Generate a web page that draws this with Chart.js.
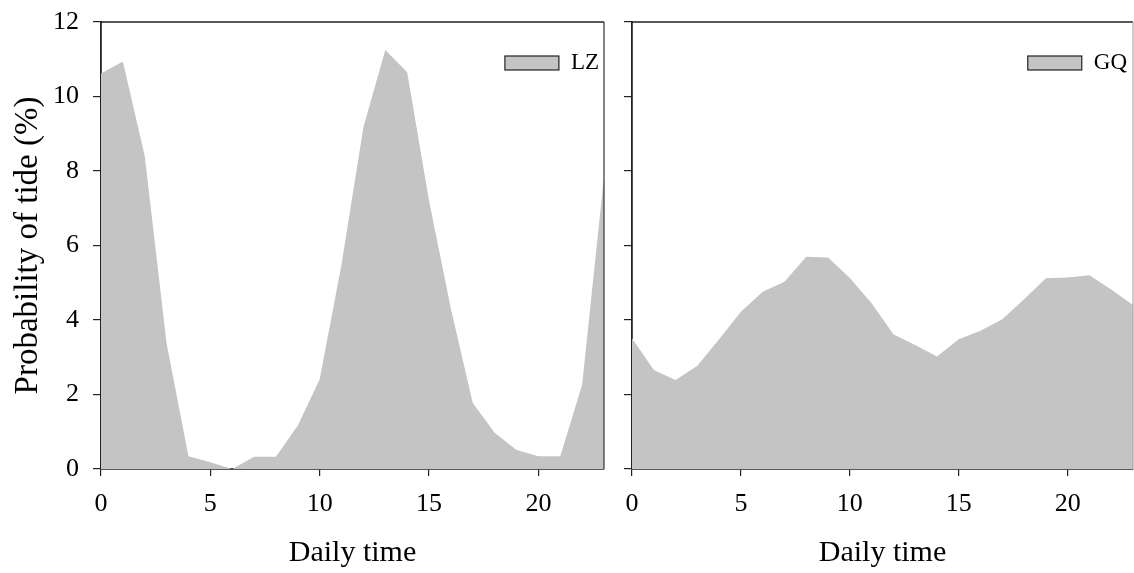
<!DOCTYPE html>
<html>
<head>
<meta charset="utf-8">
<script src="https://cdn.jsdelivr.net/npm/chart.js@4.4.1/dist/chart.umd.min.js"></script>
<style>
  html, body { margin: 0; padding: 0; background: #fff; }
  #wrap { position: relative; width: 1134px; height: 573px; overflow: hidden; }
  canvas { position: absolute; top: 0; }
  #lz-chart { left: 0; }
  #gq-chart { left: 615px; }
</style>
</head>
<body>
<div id="wrap">
  <canvas id="lz-chart" width="615" height="573"></canvas>
  <canvas id="gq-chart" width="519" height="573"></canvas>
</div>
<script>
(function () {
  // hourly tide probability (%)
  const hours = [0, 1, 2, 3, 4, 5, 6, 7, 8, 9, 10, 11, 12, 13, 14, 15, 16, 17, 18, 19, 20, 21, 22, 23];
  const lzValues = [10.62, 10.94, 8.4, 3.37, 0.34, 0.18, 0.0, 0.33, 0.33, 1.17, 2.41, 5.5, 9.18, 11.25, 10.65, 7.2, 4.3, 1.77, 0.97, 0.51, 0.34, 0.34, 2.26, 7.85];
  const gqValues = [3.51, 2.66, 2.39, 2.77, 3.48, 4.22, 4.76, 5.03, 5.7, 5.68, 5.13, 4.45, 3.62, 3.33, 3.02, 3.48, 3.71, 4.02, 4.56, 5.12, 5.14, 5.2, 4.82, 4.4];
  const xTickValues = [0, 5, 10, 15, 20];
  const yTickValues = [0, 2, 4, 6, 8, 10, 12];

  const FONT = '"Liberation Serif", "Times New Roman", serif';
  const FILL = '#c4c4c4';
  const AXIS = '#222';

  const frame = {
    id: 'frame',
    afterDraw(chart, args, opts) {
      const a = chart.chartArea;
      const c = chart.ctx;
      c.save();
      c.strokeStyle = AXIS;
      c.lineWidth = 1.5;
      c.beginPath();
      c.moveTo(a.left, a.top);
      c.lineTo(a.right, a.top);
      c.stroke();
      c.strokeStyle = opts.rightColor || '#444';
      c.lineWidth = 1.2;
      c.beginPath();
      c.moveTo(a.right, a.top);
      c.lineTo(a.right, a.bottom);
      c.stroke();
      c.restore();
    },
  };

  const insideLegend = {
    id: 'insideLegend',
    afterDraw(chart, args, opts) {
      const ds = chart.data.datasets[0];
      const a = chart.chartArea;
      const c = chart.ctx;
      c.save();
      c.font = '23px ' + FONT;
      c.textBaseline = 'middle';
      c.textAlign = 'right';
      const tx = a.right - (opts.inset || 5);
      const ty = a.top + 41;
      c.fillStyle = '#000';
      c.fillText(ds.label, tx, ty);
      const w = c.measureText(ds.label).width;
      const bx = tx - w - 12 - 54;
      c.fillStyle = ds.backgroundColor;
      c.fillRect(bx, ty - 7, 54, 14);
      c.strokeStyle = AXIS;
      c.lineWidth = 1.2;
      c.strokeRect(bx, ty - 7, 54, 14);
      c.restore();
    },
  };

  function makePanel(canvasId, label, values, opts) {
    const ctx = document.getElementById(canvasId).getContext('2d');
    return new Chart(ctx, {
      type: 'line',
      data: {
        datasets: [
          {
            label: label,
            data: hours.map((h, i) => ({ x: h, y: values[i] })),
            fill: 'origin',
            backgroundColor: FILL,
            borderWidth: 0,
            pointRadius: 0,
            tension: 0,
          },
        ],
      },
      options: {
        responsive: false,
        animation: false,
        devicePixelRatio: 1,
        layout: { padding: { top: 22, right: opts.padRight, left: 0, bottom: 0 } },
        scales: {
          x: {
            type: 'linear',
            min: 0,
            max: 23,
            z: 1,
            afterBuildTicks: (scale) => { scale.ticks = xTickValues.map((v) => ({ value: v })); },
            afterFit: (scale) => {
              scale.height = 104;
              scale.paddingLeft = 0;
              scale.paddingRight = 0;
            },
            ticks: { color: '#000', padding: 13, font: { family: FONT, size: 26 } },
            grid: { drawOnChartArea: false, drawTicks: true, tickLength: 7, color: AXIS, lineWidth: 1.2 },
            border: { display: true, color: AXIS, width: 1.8 },
            title: {
              display: true,
              text: 'Daily time',
              color: '#000',
              padding: { top: 0, bottom: 2 },
              font: { family: FONT, size: 30 },
            },
          },
          y: {
            min: 0,
            max: 12,
            z: 1,
            afterBuildTicks: (scale) => { scale.ticks = yTickValues.map((v) => ({ value: v })); },
            afterFit: (scale) => {
              scale.width = opts.yWidth;
              scale.paddingTop = 0;
              scale.paddingBottom = 0;
            },
            ticks: {
              display: opts.showYLabels,
              color: '#000',
              padding: 14,
              font: { family: FONT, size: 26 },
            },
            grid: { drawOnChartArea: false, drawTicks: true, tickLength: 8, color: AXIS, lineWidth: 1.2 },
            border: { display: true, color: AXIS, width: 1.8 },
            title: {
              display: opts.showYLabels,
              text: 'Probability of tide (%)',
              color: '#000',
              padding: { top: 9, bottom: 0 },
              font: { family: FONT, size: 33 },
            },
          },
        },
        plugins: {
          legend: { display: false },
          tooltip: { enabled: false },
          frame: { rightColor: opts.rightColor },
          insideLegend: { inset: opts.legendInset },
        },
      },
      plugins: [frame, insideLegend],
    });
  }

  makePanel('lz-chart', 'LZ', lzValues, { padRight: 11, yWidth: 101, showYLabels: true, rightColor: '#333', legendInset: 5 });
  makePanel('gq-chart', 'GQ', gqValues, { padRight: 1, yWidth: 17, showYLabels: false, rightColor: '#aaa', legendInset: 6 });
})();
</script>
</body>
</html>
